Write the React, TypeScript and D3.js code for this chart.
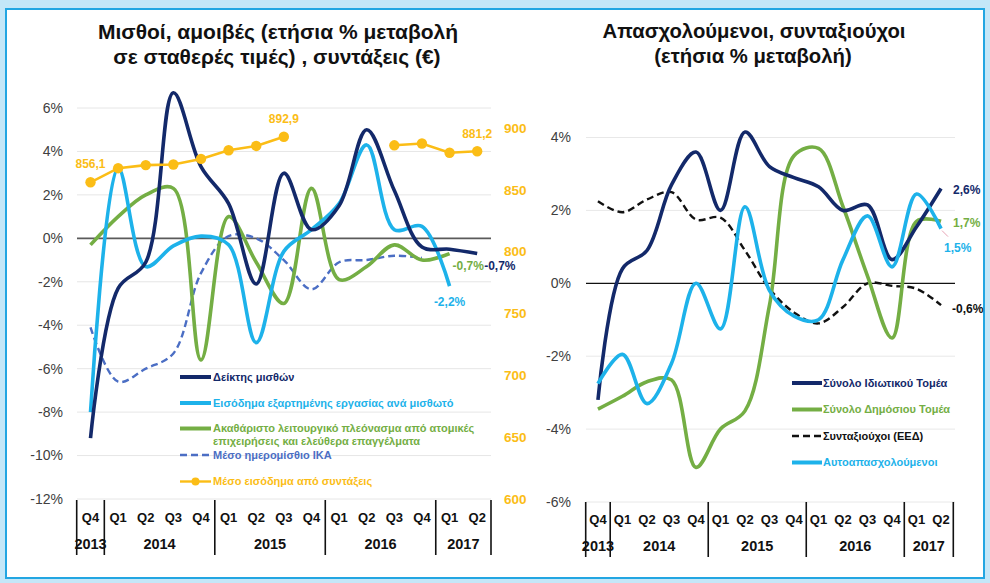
import React from "react";
import * as d3 from "d3";

// ---------- categories ----------
const quarters = ["Q4", "Q1", "Q2", "Q3", "Q4", "Q1", "Q2", "Q3", "Q4", "Q1", "Q2", "Q3", "Q4", "Q1", "Q2"];
const yearGroups = [
  { year: "2013", start: 0, end: 1 },
  { year: "2014", start: 1, end: 5 },
  { year: "2015", start: 5, end: 9 },
  { year: "2016", start: 9, end: 13 },
  { year: "2017", start: 13, end: 15 },
];

// ---------- left chart data ----------
const wageIndex = [-9.2, -2.3, -1.1, 6.7, 3.3, 1.6, -2.1, 3.0, 0.4, 1.5, 5.0, 2.2, -0.4, -0.5, -0.7];
const compPerEmployee = [-8.0, 3.25, -1.3, -0.35, 0.1, -0.3, -4.8, -0.6, 0.4, 1.6, 4.3, 0.4, 0.55, -2.2, null];
const grossSurplus = [-0.3, 1.0, 2.0, 2.3, -5.6, 1.0, -1.1, -3.0, 2.3, -1.9, -1.3, -0.3, -1.0, -0.7, null];
const ikaDailyWage = [-4.1, -6.6, -6.0, -5.3, -1.6, 0.1, 0.0, -1.0, -2.35, -1.1, -1.0, -0.8, -0.9, null, null];
const avgPension = [856.1, 867.5, 870, 870.5, 875, 882, 885.5, 892.9, null, null, null, 886, 887.5, 880, 881.2];
const leftTicks = [6, 4, 2, 0, -2, -4, -6, -8, -10, -12];
const rightTicks = [900, 850, 800, 750, 700, 650, 600];
const leftTitle = ["Μισθοί, αμοιβές (ετήσια % μεταβολή", "σε σταθερές τιμές) , συντάξεις (€)"];
const leftLegend = [
  "Δείκτης μισθών",
  "Εισόδημα εξαρτημένης εργασίας ανά μισθωτό",
  "Ακαθάριστο λειτουργικό πλεόνασμα από ατομικές",
  "επιχειρήσεις και ελεύθερα επαγγέλματα",
  "Μέσο ημερομίσθιο ΙΚΑ",
  "Μέσο εισόδημα από συντάξεις",
];

// ---------- right chart data ----------
const privateSector = [-3.2, 0.4, 0.9, 2.7, 3.6, 2.0, 4.15, 3.2, 2.9, 2.65, 2.0, 2.15, 0.65, 1.55, 2.6];
const publicSector = [-3.45, -3.1, -2.7, -2.65, -5.05, -4.0, -3.5, -0.6, 3.5, 3.7, 2.1, 0.2, -1.5, 1.7, 1.7];
const pensioners = [2.25, 1.95, 2.3, 2.5, 1.75, 1.8, 0.9, -0.15, -0.8, -1.1, -0.65, 0.0, -0.07, -0.15, -0.6];
const selfEmployed = [-2.75, -1.95, -3.3, -2.2, 0.0, -1.25, 2.1, -0.2, -0.9, -1.0, 0.65, 1.85, 0.45, 2.45, 1.5];
const rTicks = [4, 2, 0, -2, -4, -6];
const rightTitle = ["Απασχολούμενοι, συνταξιούχοι", "(ετήσια % μεταβολή)"];
const rightLegend = ["Σύνολο Ιδιωτικού Τομέα", "Σύνολο Δημόσιου Τομέα", "Συνταξιούχοι (ΕΕΔ)", "Αυτοαπασχολούμενοι"];

const NAVY = "#13296a";
const LBLUE = "#1db2ea";
const GREEN = "#74ae44";
const DBLUE = "#4b6ec4";
const ORANGE = "#fbbd16";
const FONT = "Arial, 'Liberation Sans', sans-serif";

const fmt = (v: number, pct = true) => v.toFixed(1).replace(".", ",") + (pct ? "%" : "");
const fmtTick = (v: number) => (v < 0 ? "-" : "") + Math.abs(v) + "%";

function XAxis({ x, y0 }: { x: d3.ScaleBand<number>; y0: number }) {
  const bw = x.bandwidth();
  const x0 = x.range()[0];
  const cx = (i: number) => (x(i) as number) + bw / 2;
  return (
    <g fontFamily={FONT} fontWeight="bold" fill="#111">
      {quarters.map((q, i) => (
        <text key={"q" + i} x={cx(i)} y={y0 + 23} textAnchor="middle" fontSize={13}>{q}</text>
      ))}
      {yearGroups.map((g) => (
        <text key={g.year} x={x0 + ((g.start + g.end) / 2) * bw} y={y0 + 50} textAnchor="middle" fontSize={14.5}>{g.year}</text>
      ))}
      {[0, ...yearGroups.map((g) => g.end)].map((b) => (
        <line key={"s" + b} x1={x0 + b * bw} x2={x0 + b * bw} y1={y0 + 1} y2={y0 + 56} stroke="#111" strokeWidth={1.6} />
      ))}
    </g>
  );
}

function LeftChart() {
  const x = d3.scaleBand<number>().domain(d3.range(15)).range([76.7, 491]).paddingInner(0).paddingOuter(0);
  const cx = (i: number) => (x(i) as number) + x.bandwidth() / 2;
  const y = d3.scaleLinear().domain([-12, 6]).range([499, 108]);
  const y2 = d3.scaleLinear().domain([600, 900]).range([499, 128]);
  const mk = (arr: (number | null)[], sc: d3.ScaleLinear<number, number>, curve: d3.CurveFactory) =>
    d3.line<number | null>().defined((d) => d != null).x((_, i) => cx(i)).y((d) => sc(d as number)).curve(curve)(arr) || "";
  const smooth = d3.curveCatmullRom.alpha(0.5);
  const lastIdx = (arr: (number | null)[]) => arr.reduce((a: number, d, i) => (d != null ? i : a), 0);
  return (
    <g>
      {leftTicks.map((t) => (
        <g key={t}>
          <line x1={77} x2={491} y1={y(t)} y2={y(t)} stroke={t === 0 ? "#5a5a5a" : "#e6e6e6"} strokeWidth={t === 0 ? 1.8 : 1} />
          <text x={63} y={y(t)} dy="0.35em" textAnchor="end" fontFamily={FONT} fontSize={14} fill="#404040">{fmtTick(t)}</text>
        </g>
      ))}
      {rightTicks.map((t) => (
        <text key={t} x={504} y={y2(t)} dy="0.35em" fontFamily={FONT} fontSize={13.5} fontWeight="bold" fill={ORANGE}>{t}</text>
      ))}
      <path d={mk(ikaDailyWage, y, smooth)} fill="none" stroke={DBLUE} strokeWidth={2.4} strokeDasharray="7 4" />
      <path d={mk(grossSurplus, y, smooth)} fill="none" stroke={GREEN} strokeWidth={3.6} />
      <path d={mk(compPerEmployee, y, smooth)} fill="none" stroke={LBLUE} strokeWidth={3.6} />
      <path d={mk(wageIndex, y, smooth)} fill="none" stroke={NAVY} strokeWidth={3.6} />
      <path d={mk(avgPension, y2, d3.curveLinear)} fill="none" stroke={ORANGE} strokeWidth={2.6} />
      {avgPension.map((d, i) => d != null && <circle key={i} cx={cx(i)} cy={y2(d)} r={5.2} fill={ORANGE} />)}
      <g fontFamily={FONT} fontWeight="bold" fontSize={12}>
        <text x={cx(0)} y={y2(avgPension[0] as number) - 14} textAnchor="middle" fill={ORANGE}>{fmt(avgPension[0] as number, false)}</text>
        <text x={cx(7)} y={y2(avgPension[7] as number) - 14} textAnchor="middle" fill={ORANGE}>{fmt(avgPension[7] as number, false)}</text>
        <text x={cx(14)} y={y2(avgPension[14] as number) - 13} textAnchor="middle" fill={ORANGE}>{fmt(avgPension[14] as number, false)}</text>
        <text x={cx(lastIdx(compPerEmployee))} y={y(compPerEmployee[13] as number) + 20} textAnchor="middle" fill={LBLUE}>{fmt(compPerEmployee[13] as number)}</text>
        <text x={cx(lastIdx(grossSurplus)) + 3} y={y(grossSurplus[13] as number) + 16} fill={GREEN}>{fmt(grossSurplus[13] as number)}</text>
        <text x={cx(14) + 7} y={y(wageIndex[14]) + 16} fill={NAVY}>{fmt(wageIndex[14])}</text>
      </g>
      <g fontFamily={FONT} fontWeight="bold" fontSize={11}>
        <line x1={180} x2={211} y1={377} y2={377} stroke={NAVY} strokeWidth={4} />
        <text x={213} y={377} dy="0.35em" fill={NAVY}>{leftLegend[0]}</text>
        <line x1={180} x2={211} y1={403} y2={403} stroke={LBLUE} strokeWidth={4} />
        <text x={213} y={403} dy="0.35em" fill={LBLUE}>{leftLegend[1]}</text>
        <line x1={180} x2={211} y1={428.5} y2={428.5} stroke={GREEN} strokeWidth={4} />
        <text x={213} y={428.5} dy="0.35em" fill={GREEN}>{leftLegend[2]}</text>
        <text x={213} y={441} dy="0.35em" fill={GREEN}>{leftLegend[3]}</text>
        <line x1={180} x2={211} y1={455} y2={455} stroke={DBLUE} strokeWidth={2.6} strokeDasharray="7 4" />
        <text x={213} y={455} dy="0.35em" fill={DBLUE}>{leftLegend[4]}</text>
        <line x1={180} x2={211} y1={481.5} y2={481.5} stroke={ORANGE} strokeWidth={2.4} />
        <circle cx={195.5} cy={481.5} r={4} fill={ORANGE} />
        <text x={213} y={481.5} dy="0.35em" fill={ORANGE}>{leftLegend[5]}</text>
      </g>
      <XAxis x={x} y0={499} />
      <g fontFamily={FONT} fontWeight="bold" fontSize={21} fill="#111" textAnchor="middle">
        <text x={278} y={39}>{leftTitle[0]}</text>
        <text x={277} y={64}>{leftTitle[1]}</text>
      </g>
    </g>
  );
}

function RightChart() {
  const x = d3.scaleBand<number>().domain(d3.range(15)).range([585.7, 953.3]).paddingInner(0).paddingOuter(0);
  const cx = (i: number) => (x(i) as number) + x.bandwidth() / 2;
  const y = d3.scaleLinear().domain([-6, 4]).range([502, 137.5]);
  const smooth = d3.curveCatmullRom.alpha(0.5);
  const mk = (arr: number[]) => d3.line<number>().x((_, i) => cx(i)).y((d) => y(d)).curve(smooth)(arr) || "";
  const lx = cx(14);
  return (
    <g>
      {rTicks.map((t) => (
        <g key={t}>
          <line x1={586} x2={955} y1={y(t)} y2={y(t)} stroke={t === 0 ? "#111" : "#e8e8e8"} strokeWidth={t === 0 ? 1.3 : 1} />
          <text x={571} y={y(t)} dy="0.35em" textAnchor="end" fontFamily={FONT} fontSize={14} fill="#404040">{fmtTick(t)}</text>
        </g>
      ))}
      <path d={mk(pensioners)} fill="none" stroke="#111" strokeWidth={2.4} strokeDasharray="7 4" />
      <path d={mk(publicSector)} fill="none" stroke={GREEN} strokeWidth={3.6} />
      <path d={mk(privateSector)} fill="none" stroke={NAVY} strokeWidth={3.6} />
      <path d={mk(selfEmployed)} fill="none" stroke={LBLUE} strokeWidth={3.6} />
      <line x1={lx + 1} y1={y(selfEmployed[14]) + 2} x2={lx + 7} y2={y(selfEmployed[14]) + 8} stroke="#e7a3b5" strokeWidth={1} />
      <g fontFamily={FONT} fontWeight="bold" fontSize={12}>
        <text x={lx + 12} y={y(privateSector[14]) + 5} fill={NAVY}>{fmt(privateSector[14])}</text>
        <text x={lx + 12} y={y(publicSector[14]) + 6} fill={GREEN}>{fmt(publicSector[14])}</text>
        <text x={lx + 3} y={y(selfEmployed[14]) + 23} fill={LBLUE}>{fmt(selfEmployed[14])}</text>
        <text x={lx + 11} y={y(pensioners[14]) + 8} fill="#111">{fmt(pensioners[14])}</text>
      </g>
      <g fontFamily={FONT} fontWeight="bold" fontSize={11}>
        <line x1={792} x2={822} y1={383} y2={383} stroke={NAVY} strokeWidth={4} />
        <text x={823} y={383} dy="0.35em" fill={NAVY}>{rightLegend[0]}</text>
        <line x1={792} x2={822} y1={409.5} y2={409.5} stroke={GREEN} strokeWidth={4} />
        <text x={823} y={409.5} dy="0.35em" fill={GREEN}>{rightLegend[1]}</text>
        <line x1={792} x2={822} y1={436} y2={436} stroke="#111" strokeWidth={2.6} strokeDasharray="7 4" />
        <text x={823} y={436} dy="0.35em" fill="#111">{rightLegend[2]}</text>
        <line x1={792} x2={822} y1={462.5} y2={462.5} stroke={LBLUE} strokeWidth={4} />
        <text x={823} y={462.5} dy="0.35em" fill={LBLUE}>{rightLegend[3]}</text>
      </g>
      <XAxis x={x} y0={501} />
      <g fontFamily={FONT} fontWeight="bold" fontSize={20.3} fill="#111" textAnchor="middle">
        <text x={754} y={38}>{rightTitle[0]}</text>
        <text x={753} y={63}>{rightTitle[1]}</text>
      </g>
    </g>
  );
}

export default function App() {
  return (
    <svg width={990} height={583} style={{ position: "absolute", left: 0, top: 0 }}>
      <rect x={0} y={0} width={990} height={583} fill="#c4e7f8" />
      <rect x={6} y={9} width={978} height={569} fill="#fff" stroke="#22a6e2" strokeWidth={2} />
      <LeftChart />
      <RightChart />
    </svg>
  );
}
